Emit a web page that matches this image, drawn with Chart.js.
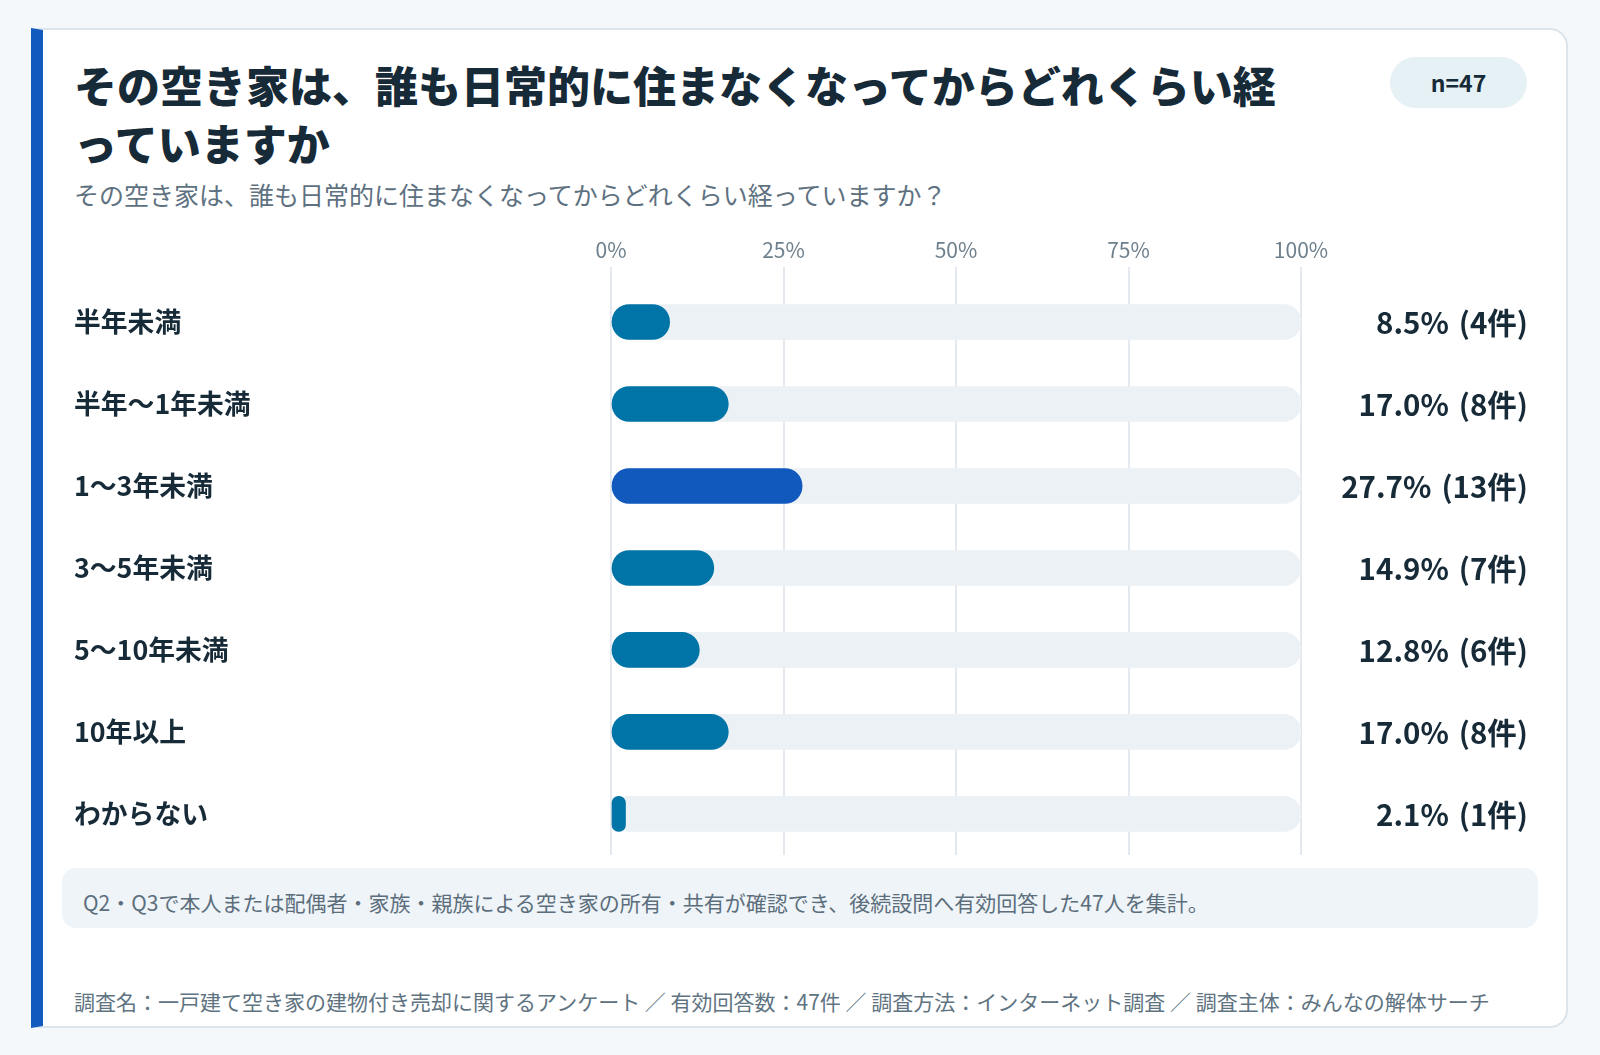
<!DOCTYPE html>
<html lang="ja">
<head>
<meta charset="utf-8">
<script src="https://cdn.jsdelivr.net/npm/chart.js"></script>
<style>
  html, body { margin:0; padding:0; }
  body { width:1600px; height:1055px; background:#F4F8FB; position:relative; overflow:hidden;
         font-family:'Noto Sans CJK JP','Noto Sans',sans-serif; }
  .card { position:absolute; left:31px; top:28px; width:1537px; height:1000px; box-sizing:border-box;
          background:#fff; border:2px solid #DCE5EC; border-left:12px solid #135ABF; border-radius:0 18px 18px 0; }
  .title { position:absolute; left:74px; top:55px; font-size:43px; line-height:58px; font-weight:800; color:#172A37; white-space:nowrap; }
  .subtitle { position:absolute; left:74px; top:179px; font-size:25px; line-height:30px; color:#5E7181; white-space:nowrap; }
  .badge { position:absolute; left:1390px; top:57px; width:137px; height:51px; border-radius:26px; background:#E6F1F6;
           color:#172A37; font-weight:700; font-size:23px; line-height:51px; text-align:center; }
  .note { position:absolute; left:62px; top:868px; width:1476px; height:60px; box-sizing:border-box; border-radius:14px;
          background:#EEF4F8; padding:19px 0 0 21px; font-size:21px; line-height:30px; color:#5C6E7C; white-space:nowrap; }
  .footer { position:absolute; left:74px; top:986px; font-size:21px; line-height:30px; color:#607381; white-space:nowrap; }
  #chart { position:absolute; left:60px; top:225px; }
</style>
</head>
<body>
<div class="card"></div>
<div class="title">その空き家は、誰も日常的に住まなくなってからどれくらい経<br>っていますか</div>
<div class="subtitle">その空き家は、誰も日常的に住まなくなってからどれくらい経っていますか？</div>
<div class="badge">n=47</div>
<canvas id="chart" width="1500" height="646" style="width:1500px;height:646px;"></canvas>
<div class="note">Q2・Q3で本人または配偶者・家族・親族による空き家の所有・共有が確認でき、後続設問へ有効回答した47人を集計。</div>
<div class="footer">調査名：一戸建て空き家の建物付き売却に関するアンケート ／ 有効回答数：47件 ／ 調査方法：インターネット調査 ／ 調査主体：みんなの解体サーチ</div>
<script>
const categories = ['半年未満', '半年〜1年未満', '1〜3年未満', '3〜5年未満', '5〜10年未満', '10年以上', 'わからない'];
const percents = [8.5, 17.0, 27.7, 14.9, 12.8, 17.0, 2.1];
const counts = [4, 8, 13, 7, 6, 8, 1];
const tickValues = [0, 25, 50, 75, 100];
const scaleMax = 100;

const FONT = "'Noto Sans CJK JP','Noto Sans',sans-serif";
const maxVal = Math.max(...percents);
const barColors = percents.map(v => v === maxVal ? '#1259BE' : '#0074A6');
const track = categories.map(() => scaleMax);

const valueLabels = {
  id: 'valueLabels',
  afterDatasetsDraw(chart) {
    const { ctx } = chart;
    const y = chart.scales.y;
    ctx.save();
    ctx.font = "700 29.5px " + FONT;
    ctx.fillStyle = '#172A37';
    ctx.textAlign = 'right';
    ctx.textBaseline = 'middle';
    const right = chart.width - 32;
    percents.forEach((p, i) => {
      const py = y.getPixelForValue(i) + 1;
      const cnt = '(' + counts[i] + '件)';
      const w2 = ctx.measureText(cnt).width;
      ctx.fillText(cnt, right, py);
      ctx.fillText(p.toFixed(1) + '%', right - w2 - 10, py);
    });
    ctx.restore();
  }
};

new Chart(document.getElementById('chart'), {
  type: 'bar',
  data: {
    labels: categories,
    datasets: [
      { label: '割合', data: percents, backgroundColor: barColors, barThickness: 35, borderRadius: 18,
        borderSkipped: false, grouped: false, order: 1 },
      { label: 'track', data: track, backgroundColor: '#ECF1F5', barThickness: 35, borderRadius: 18,
        borderSkipped: false, grouped: false, order: 2 }
    ]
  },
  options: {
    indexAxis: 'y',
    responsive: false,
    animation: false,
    layout: { padding: { left: 14, right: 259, top: 0, bottom: 0 } },
    plugins: { legend: { display: false }, tooltip: { enabled: false } },
    scales: {
      x: {
        position: 'top', min: 0, max: scaleMax,
        afterBuildTicks: s => { s.ticks = tickValues.map(v => ({ value: v })); },
        afterFit: s => { s.height = 56; },
        ticks: { callback: v => v + '%', color: '#6F808D', font: { family: FONT, size: 21 }, padding: 4, maxRotation: 0 },
        grid: { color: '#E3E9EE', lineWidth: 2, tickLength: 14, drawTicks: true },
        border: { display: false }
      },
      y: {
        afterFit: s => { s.width = 537; },
        ticks: { crossAlign: 'far', color: '#172A37', font: { family: FONT, size: 26.8, weight: '700' }, padding: 0 },
        grid: { display: false },
        border: { display: false }
      }
    }
  },
  plugins: [valueLabels]
});
</script>
</body>
</html>
